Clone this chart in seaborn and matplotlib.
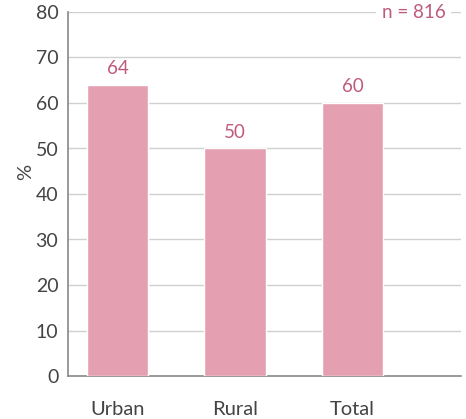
import matplotlib
matplotlib.use("Agg")
import matplotlib.pyplot as plt
import seaborn as sns
import pandas as pd

categories = ["Urban", "Rural", "Total"]
values = [64, 50, 60]
n_label = "n = 816"

bar_color = "#e4a0b0"
label_color = "#bf5a7c"
text_color = "#444444"

sns.set_style("white")
plt.rcParams["font.family"] = ["Lato", "DejaVu Sans"]

df = pd.DataFrame({"area": categories, "pct": values})

fig = plt.figure(figsize=(4.66, 4.19), dpi=100)
ax = fig.add_axes([68 / 466, 43 / 419, 393 / 466, 364 / 419])

sns.barplot(data=df, x="area", y="pct", color=bar_color, width=0.52,
            saturation=1, ax=ax, zorder=3)

ax.set_ylim(0, 80)
ax.set_xlim(-0.42, 2.92)
ax.set_yticks(range(0, 81, 10))
ax.yaxis.grid(True, color="#d0d0d0", linewidth=1, zorder=0)
ax.set_axisbelow(True)

for s in ["top", "right"]:
    ax.spines[s].set_visible(False)
for s in ["left", "bottom"]:
    ax.spines[s].set_color("#888888")
    ax.spines[s].set_linewidth(1.2)

ax.tick_params(axis="y", length=0, pad=7, labelsize=14, labelcolor=text_color)
ax.tick_params(axis="x", length=0, pad=18, labelsize=14.5, labelcolor=text_color)
ax.set_xlabel("")
ax.set_ylabel("%", fontsize=14.5, color=text_color)
ax.yaxis.set_label_coords(-0.085, 0.56)

for i, v in enumerate(values):
    ax.text(i, v + 3.6, str(v), ha="center", va="center", fontsize=13.5,
            color=label_color)

ax.text(2.52, 80, n_label, ha="center", va="center", fontsize=13.5,
        color=label_color, zorder=5,
        bbox=dict(facecolor="white", edgecolor="none", pad=4))

fig.savefig("out.png", dpi=100)
